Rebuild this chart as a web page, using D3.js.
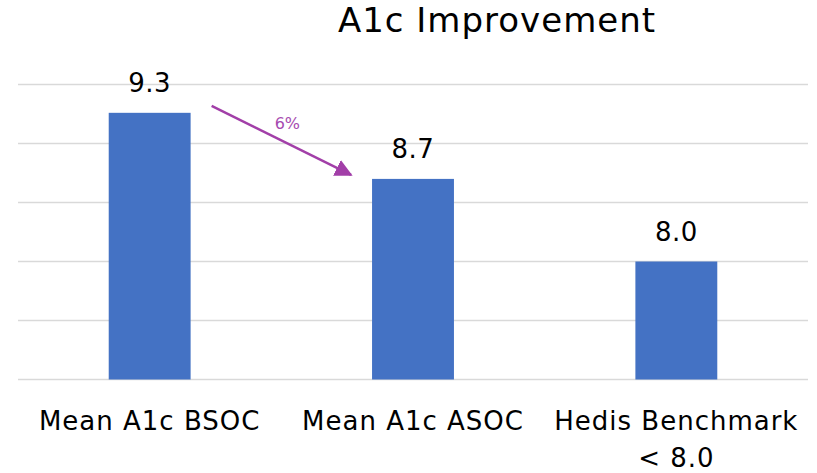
<!DOCTYPE html>
<meta charset="utf-8">
<script src="https://d3js.org/d3.v7.min.js"></script>
<style>
body { margin: 0; background: #fff; }
text { font-family: "DejaVu Sans", sans-serif; fill: #000; }
</style>
<body>
<script>

// chart values
var categories = ["Mean A1c BSOC", "Mean A1c ASOC", "Hedis Benchmark < 8.0"];
var values = [9.26, 8.7, 8.0];
var yTicks = [7, 7.5, 8, 8.5, 9, 9.5];
var changeLabel = "6%";

var width = 817, height = 473;
var plotLeft = 18, plotRight = 808, plotTop = 84.5, plotBottom = 379.5;

var svg = d3.select("body").append("svg")
    .attr("width", width)
    .attr("height", height);

var x = d3.scaleBand()
    .domain(categories)
    .range([plotLeft, plotRight])
    .paddingInner(0.689)
    .paddingOuter(0.3445);

var y = d3.scaleLinear()
    .domain([7, 9.5])
    .range([plotBottom, plotTop]);

// gridlines
svg.append("g")
    .selectAll("line")
    .data(yTicks)
    .enter().append("line")
    .attr("x1", plotLeft)
    .attr("x2", plotRight)
    .attr("y1", function(d) { return y(d); })
    .attr("y2", function(d) { return y(d); })
    .attr("stroke", "#d9d9d9")
    .attr("stroke-width", 1.5);

// bars
svg.append("g")
    .selectAll("rect")
    .data(values)
    .enter().append("rect")
    .attr("x", function(d, i) { return x(categories[i]); })
    .attr("y", function(d) { return y(d); })
    .attr("width", x.bandwidth())
    .attr("height", function(d) { return y(7) - y(d); })
    .attr("fill", "#4472c4");

// value labels
svg.append("g")
    .selectAll("text")
    .data(values)
    .enter().append("text")
    .attr("x", function(d, i) { return x(categories[i]) + x.bandwidth() / 2; })
    .attr("y", function(d) { return y(d) - 21; })
    .attr("text-anchor", "middle")
    .style("font-size", "26px")
    .style("letter-spacing", "0.5px")
    .text(function(d) { return d.toFixed(1); });

// category labels, wrapped to the band step
var step = x.step();
var catLabels = svg.append("g")
    .selectAll("text")
    .data(categories)
    .enter().append("text")
    .attr("x", function(d) { return x(d) + x.bandwidth() / 2; })
    .attr("y", 430)
    .attr("text-anchor", "middle")
    .style("font-size", "26px")
    .style("letter-spacing", "1px");

catLabels.each(function(d) {
    var el = d3.select(this);
    var words = d.split(" ");
    var line = [];
    var tspan = el.append("tspan").attr("x", el.attr("x")).attr("dy", 0);
    words.forEach(function(w) {
        line.push(w);
        tspan.text(line.join(" "));
        if (tspan.node().getComputedTextLength() > step - 10 && line.length > 1) {
            line.pop();
            tspan.text(line.join(" "));
            line = [w];
            tspan = el.append("tspan").attr("x", el.attr("x")).attr("dy", 37).text(w);
        }
    });
});

// title
svg.append("text")
    .attr("x", 497)
    .attr("y", 32)
    .attr("text-anchor", "middle")
    .style("font-size", "34px")
    .style("letter-spacing", "1px")
    .text("A1c Improvement");

// change arrow between first two bars
var purple = "#a23fa8";
svg.append("defs").append("marker")
    .attr("id", "arrowhead")
    .attr("viewBox", "0 0 10 10")
    .attr("refX", 9)
    .attr("refY", 5)
    .attr("markerWidth", 7)
    .attr("markerHeight", 7)
    .attr("markerUnits", "strokeWidth")
    .attr("orient", "auto")
    .append("path")
    .attr("d", "M0,0 L10,5 L0,10 Z")
    .attr("fill", purple);

var x0 = x(categories[0]) + x.bandwidth() + 21;
var x1 = x(categories[1]) - 21;
svg.append("line")
    .attr("x1", x0)
    .attr("y1", y(values[0]) - 7)
    .attr("x2", x1)
    .attr("y2", y(values[1]) - 4)
    .attr("stroke", purple)
    .attr("stroke-width", 2.5)
    .attr("marker-end", "url(#arrowhead)");

svg.append("text")
    .attr("x", (x0 + x1) / 2 + 6)
    .attr("y", 129)
    .attr("text-anchor", "middle")
    .style("font-size", "16px")
    .style("fill", "#a64bb0")
    .text(changeLabel);

</script>
</body>
